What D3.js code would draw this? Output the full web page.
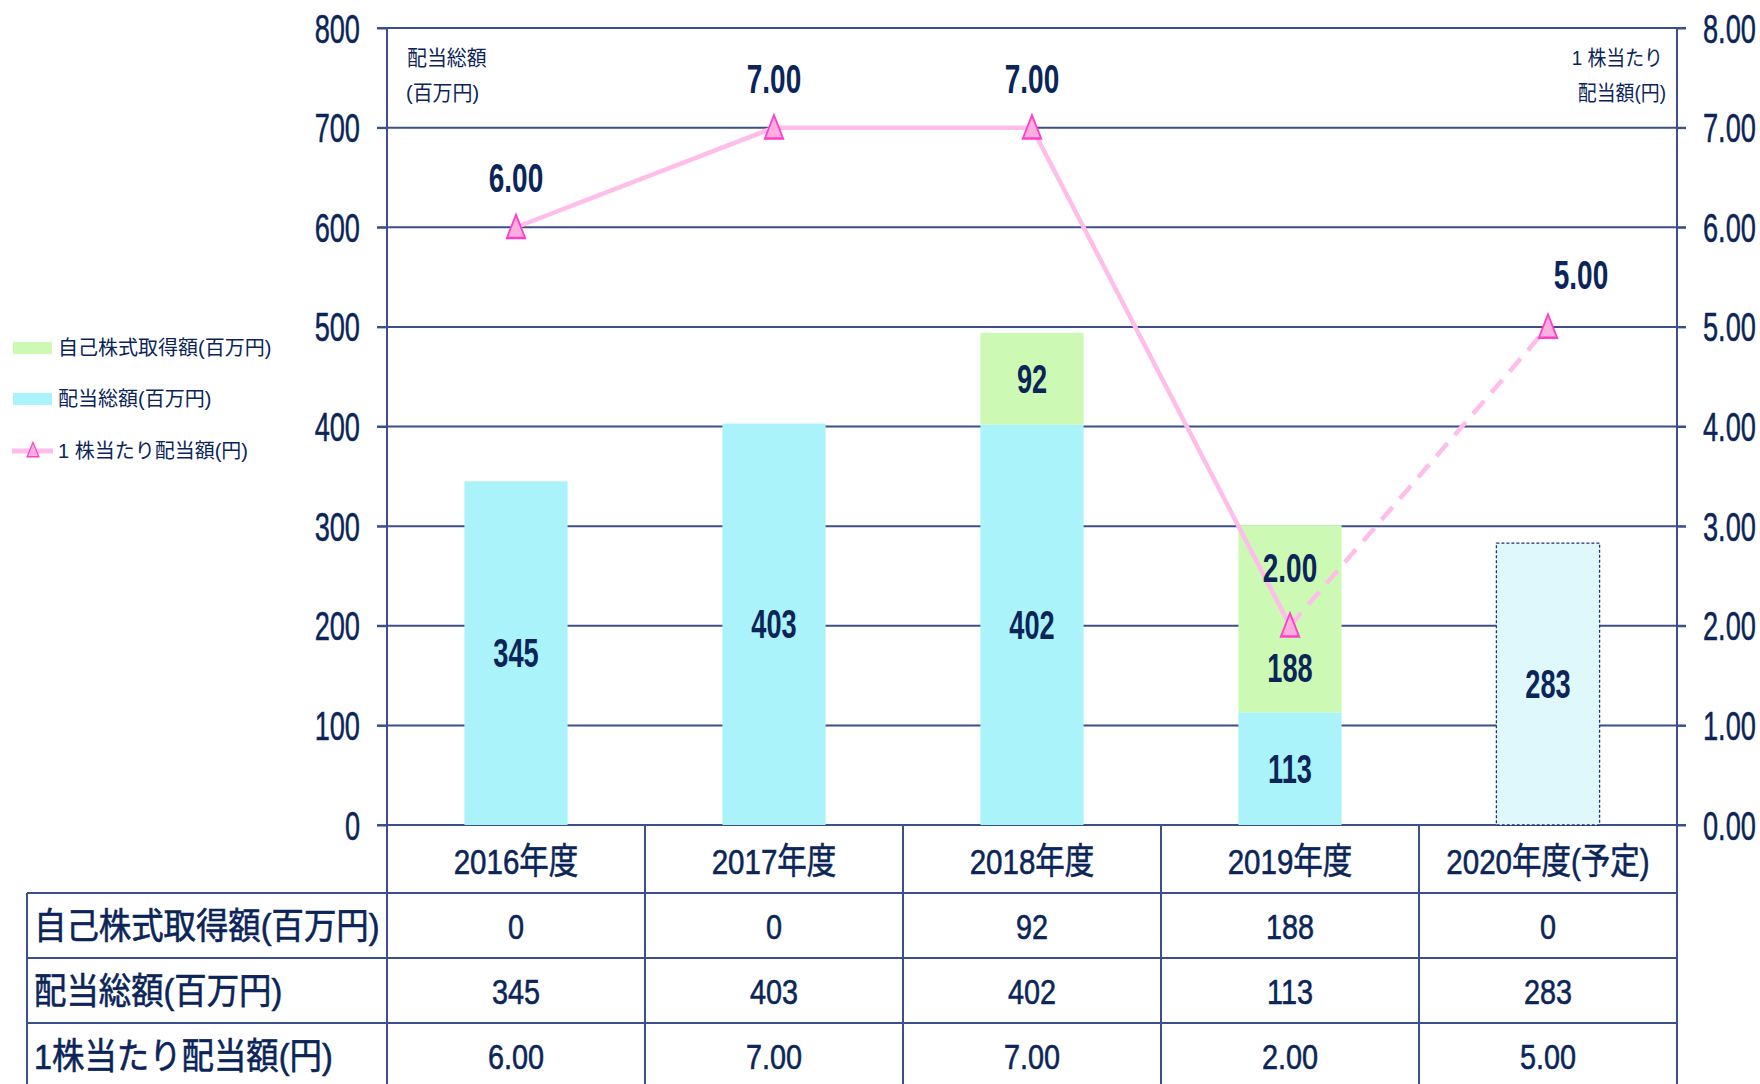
<!DOCTYPE html>
<html>
<head>
<meta charset="utf-8">
<script src="https://cdn.jsdelivr.net/npm/d3@7"></script>
<style>
  html, body { margin: 0; padding: 0; background: #fff; }
  svg { display: block; }
  text { font-family: "Liberation Sans", "Noto Sans CJK JP", sans-serif; fill: #0b2559; }
</style>
</head>
<body>
<svg id="chart" width="1760" height="1084"></svg>
<script>
// chart data
var years = ['2016年度', '2017年度', '2018年度', '2019年度', '2020年度(予定)'];
var buyback = [0, 0, 92, 188, 0];          // 自己株式取得額(百万円)
var dividendTotal = [345, 403, 402, 113, 283]; // 配当総額(百万円)
var perShare = [6.00, 7.00, 7.00, 2.00, 5.00]; // 1株当たり配当額(円)
var leftTicks = [0, 100, 200, 300, 400, 500, 600, 700, 800];
var rightTicks = [0, 1, 2, 3, 4, 5, 6, 7, 8];
var rowLabels = ['自己株式取得額(百万円)', '配当総額(百万円)', '1株当たり配当額(円)'];
var legendLabels = ['自己株式取得額(百万円)', '配当総額(百万円)', '1 株当たり配当額(円)'];

;(function() {
	'use strict';

	var navy = '#0b2559';
	var gridColor = '#3b4f88';
	var green = '#ccfab4';
	var cyan = '#aaf3fa';
	var paleCyan = '#dff8fc';
	var pinkLine = '#ffbde9';
	var pinkFill = '#ffaee0';
	var pinkStroke = '#ff3fc8';

	var svg = d3.select('#chart');

	var plotLeft = 387, plotRight = 1677, plotTop = 28, plotBottom = 825;

	var x = d3.scaleBand()
		.domain(years)
		.range([plotLeft, plotRight])
		.paddingInner(0.6)
		.paddingOuter(0.3);

	var yL = d3.scaleLinear().domain([0, 800]).range([plotBottom, plotTop]);
	var yR = d3.scaleLinear().domain([0, 8]).range([plotBottom, plotTop]);

	// text with horizontal squeeze (the source font is condensed)
	function label(g, px, py, str, o) {
		o = Object.assign({size: 36, sx: 0.8, anchor: 'middle', weight: 'normal'}, o);
		return g.append('text')
			.attr('transform', 'translate(' + px + ',' + py + ') scale(' + o.sx + ',1)')
			.attr('text-anchor', o.anchor)
			.attr('font-size', o.size)
			.attr('font-weight', o.weight)
			.text(str);
	}

	/*
	 gridlines
	*/
	svg.append('g').selectAll('line')
		.data(leftTicks)
		.enter().append('line')
		.attr('x1', plotLeft - 10)
		.attr('x2', plotRight + 9)
		.attr('y1', function(d) { return yL(d); })
		.attr('y2', function(d) { return yL(d); })
		.attr('stroke', gridColor)
		.attr('stroke-width', 2);

	/*
	 bars
	*/
	var barG = svg.append('g');
	years.forEach(function(yr, i) {
		var bx = x(yr), bw = x.bandwidth();
		var projected = i === years.length - 1;
		barG.append('rect')
			.attr('x', bx)
			.attr('width', bw)
			.attr('y', yL(dividendTotal[i]))
			.attr('height', yL(0) - yL(dividendTotal[i]))
			.attr('fill', projected ? paleCyan : cyan)
			.attr('stroke', projected ? '#1e3170' : 'none')
			.attr('stroke-width', projected ? 1.3 : 0)
			.attr('stroke-dasharray', projected ? '3,2' : null);
		if (buyback[i] > 0) {
			barG.append('rect')
				.attr('x', bx)
				.attr('width', bw)
				.attr('y', yL(dividendTotal[i] + buyback[i]))
				.attr('height', yL(dividendTotal[i]) - yL(dividendTotal[i] + buyback[i]))
				.attr('fill', green);
		}
	});

	/*
	 axes
	*/
	var axL = svg.append('g')
		.attr('transform', 'translate(' + plotLeft + ',0)')
		.call(d3.axisLeft(yL).tickValues(leftTicks).tickSize(10).tickPadding(0));
	axL.select('.domain').attr('stroke', gridColor).attr('stroke-width', 2).attr('d', 'M0,' + plotTop + 'V' + plotBottom);
	axL.selectAll('.tick line').attr('stroke', gridColor).attr('stroke-width', 2);
	axL.selectAll('.tick text')
		.attr('x', null).attr('dy', null)
		.attr('fill', navy)
		.attr('stroke', navy)
		.attr('stroke-width', 0.5)
		.attr('font-size', 40)
		.attr('font-family', null)
		.attr('transform', 'translate(-27,14) scale(0.68,1)');

	var axR = svg.append('g')
		.attr('transform', 'translate(' + plotRight + ',0)')
		.call(d3.axisRight(yR).tickValues(rightTicks).tickSize(9).tickPadding(0).tickFormat(d3.format('.2f')));
	axR.select('.domain').attr('stroke', gridColor).attr('stroke-width', 2).attr('d', 'M0,' + plotTop + 'V' + plotBottom);
	axR.selectAll('.tick line').attr('stroke', gridColor).attr('stroke-width', 2);
	axR.selectAll('.tick text')
		.attr('x', null).attr('dy', null)
		.attr('fill', navy)
		.attr('stroke', navy)
		.attr('stroke-width', 0.5)
		.attr('font-size', 40)
		.attr('font-family', null)
		.attr('transform', 'translate(26,14) scale(0.68,1)');

	// axis titles
	var titles = svg.append('g');
	label(titles, 407, 65, '配当総額', {size: 21, sx: 0.95, anchor: 'start'});
	label(titles, 406, 100, '(百万円)', {size: 21, sx: 0.95, anchor: 'start'});
	label(titles, 1663, 65, '1 株当たり', {size: 21, sx: 0.9, anchor: 'end'});
	label(titles, 1666, 100, '配当額(円)', {size: 21, sx: 0.9, anchor: 'end'});

	/*
	 bar labels
	*/
	var barLabels = svg.append('g');
	years.forEach(function(yr, i) {
		var cx = x(yr) + x.bandwidth() / 2;
		var cy = (yL(0) + yL(dividendTotal[i])) / 2;
		label(barLabels, cx, cy + 14, dividendTotal[i], {size: 40, sx: 0.68, weight: 'bold'});
		if (buyback[i] > 0) {
			var gy = (yL(dividendTotal[i]) + yL(dividendTotal[i] + buyback[i])) / 2;
			// the 2019 label is pushed down to clear the line label
			if (i === 3) gy += 49;
			label(barLabels, cx, gy + 14, buyback[i], {size: 40, sx: 0.68, weight: 'bold'});
		}
	});

	/*
	 per-share line
	*/
	var pts = perShare.map(function(v, i) {
		return [x(years[i]) + x.bandwidth() / 2, yR(v)];
	});
	var line = d3.line();
	svg.append('path')
		.attr('d', line(pts.slice(0, 4)))
		.attr('fill', 'none')
		.attr('stroke', pinkLine)
		.attr('stroke-width', 4.5);
	svg.append('path')
		.attr('d', line(pts.slice(3)))
		.attr('fill', 'none')
		.attr('stroke', pinkLine)
		.attr('stroke-width', 4.5)
		.attr('stroke-dasharray', '17,11');

	var tri = d3.symbol().type(d3.symbolTriangle).size(200);
	svg.append('g').selectAll('path')
		.data(pts)
		.enter().append('path')
		.attr('d', tri)
		.attr('transform', function(d) { return 'translate(' + d[0] + ',' + (d[1] + 3) + ') scale(0.85,1.25)'; })
		.attr('fill', pinkFill)
		.attr('stroke', pinkStroke)
		.attr('stroke-width', 2);

	var lineLabels = svg.append('g');
	pts.forEach(function(p, i) {
		var dx = 0, dy = -49;
		if (i === 3) dy = -58;
		if (i === 4) { dx = 33; dy = -52; }
		label(lineLabels, p[0] + dx, p[1] + dy + 14, d3.format('.2f')(perShare[i]), {size: 40, sx: 0.7, weight: 'bold'});
	});

	/*
	 legend
	*/
	var lg = svg.append('g');
	var legendY = [348, 399, 451];
	lg.append('rect').attr('x', 13).attr('y', legendY[0] - 6).attr('width', 39).attr('height', 12).attr('fill', green);
	lg.append('rect').attr('x', 13).attr('y', legendY[1] - 6).attr('width', 39).attr('height', 12).attr('fill', cyan);
	lg.append('line')
		.attr('x1', 12).attr('x2', 53)
		.attr('y1', legendY[2]).attr('y2', legendY[2])
		.attr('stroke', pinkLine).attr('stroke-width', 5);
	lg.append('path')
		.attr('d', tri)
		.attr('transform', 'translate(33,' + (legendY[2] + 1) + ') scale(0.55,0.78)')
		.attr('fill', pinkFill)
		.attr('stroke', pinkStroke)
		.attr('stroke-width', 2);
	legendLabels.forEach(function(t, i) {
		label(lg, 58, legendY[i] + 7, t, {size: 20, sx: 1, anchor: 'start'}).attr('fill', '#1d3468');
	});

	/*
	 data table
	*/
	var tbl = svg.append('g');
	var tableLeft = 27;
	var rowY = [893, 958, 1023, 1088];
	var headerMid = 861;
	var lineStyle = function(s) { return s.attr('stroke', gridColor).attr('stroke-width', 2); };

	rowY.forEach(function(ry) {
		lineStyle(tbl.append('line').attr('x1', tableLeft).attr('x2', plotRight).attr('y1', ry).attr('y2', ry));
	});
	lineStyle(tbl.append('line').attr('x1', tableLeft).attr('x2', tableLeft).attr('y1', rowY[0]).attr('y2', 1084));
	var colEdges = years.map(function(yr) { return x(yr) - x.step() * x.paddingInner() / 2; });
	colEdges.push(plotRight);
	colEdges.forEach(function(cx) {
		lineStyle(tbl.append('line').attr('x1', cx).attr('x2', cx).attr('y1', plotBottom).attr('y2', 1084));
	});

	years.forEach(function(yr, i) {
		var cx = x(yr) + x.bandwidth() / 2;
		label(tbl, cx, headerMid + 13, yr, {size: 36, sx: 0.82}).attr('stroke', navy).attr('stroke-width', 0.6);
		var vals = [buyback[i], dividendTotal[i], d3.format('.2f')(perShare[i])];
		vals.forEach(function(v, r) {
			var cy = (rowY[r] + rowY[r + 1]) / 2;
			label(tbl, cx, cy + 13, v, {size: 36, sx: 0.8}).attr('stroke', navy).attr('stroke-width', 0.6);
		});
	});
	rowLabels.forEach(function(t, r) {
		var cy = (rowY[r] + rowY[r + 1]) / 2;
		label(tbl, 34, cy + 13, t, {size: 36, sx: 0.9, anchor: 'start'}).attr('stroke', navy).attr('stroke-width', 0.6);
	});
}());
</script>
</body>
</html>
